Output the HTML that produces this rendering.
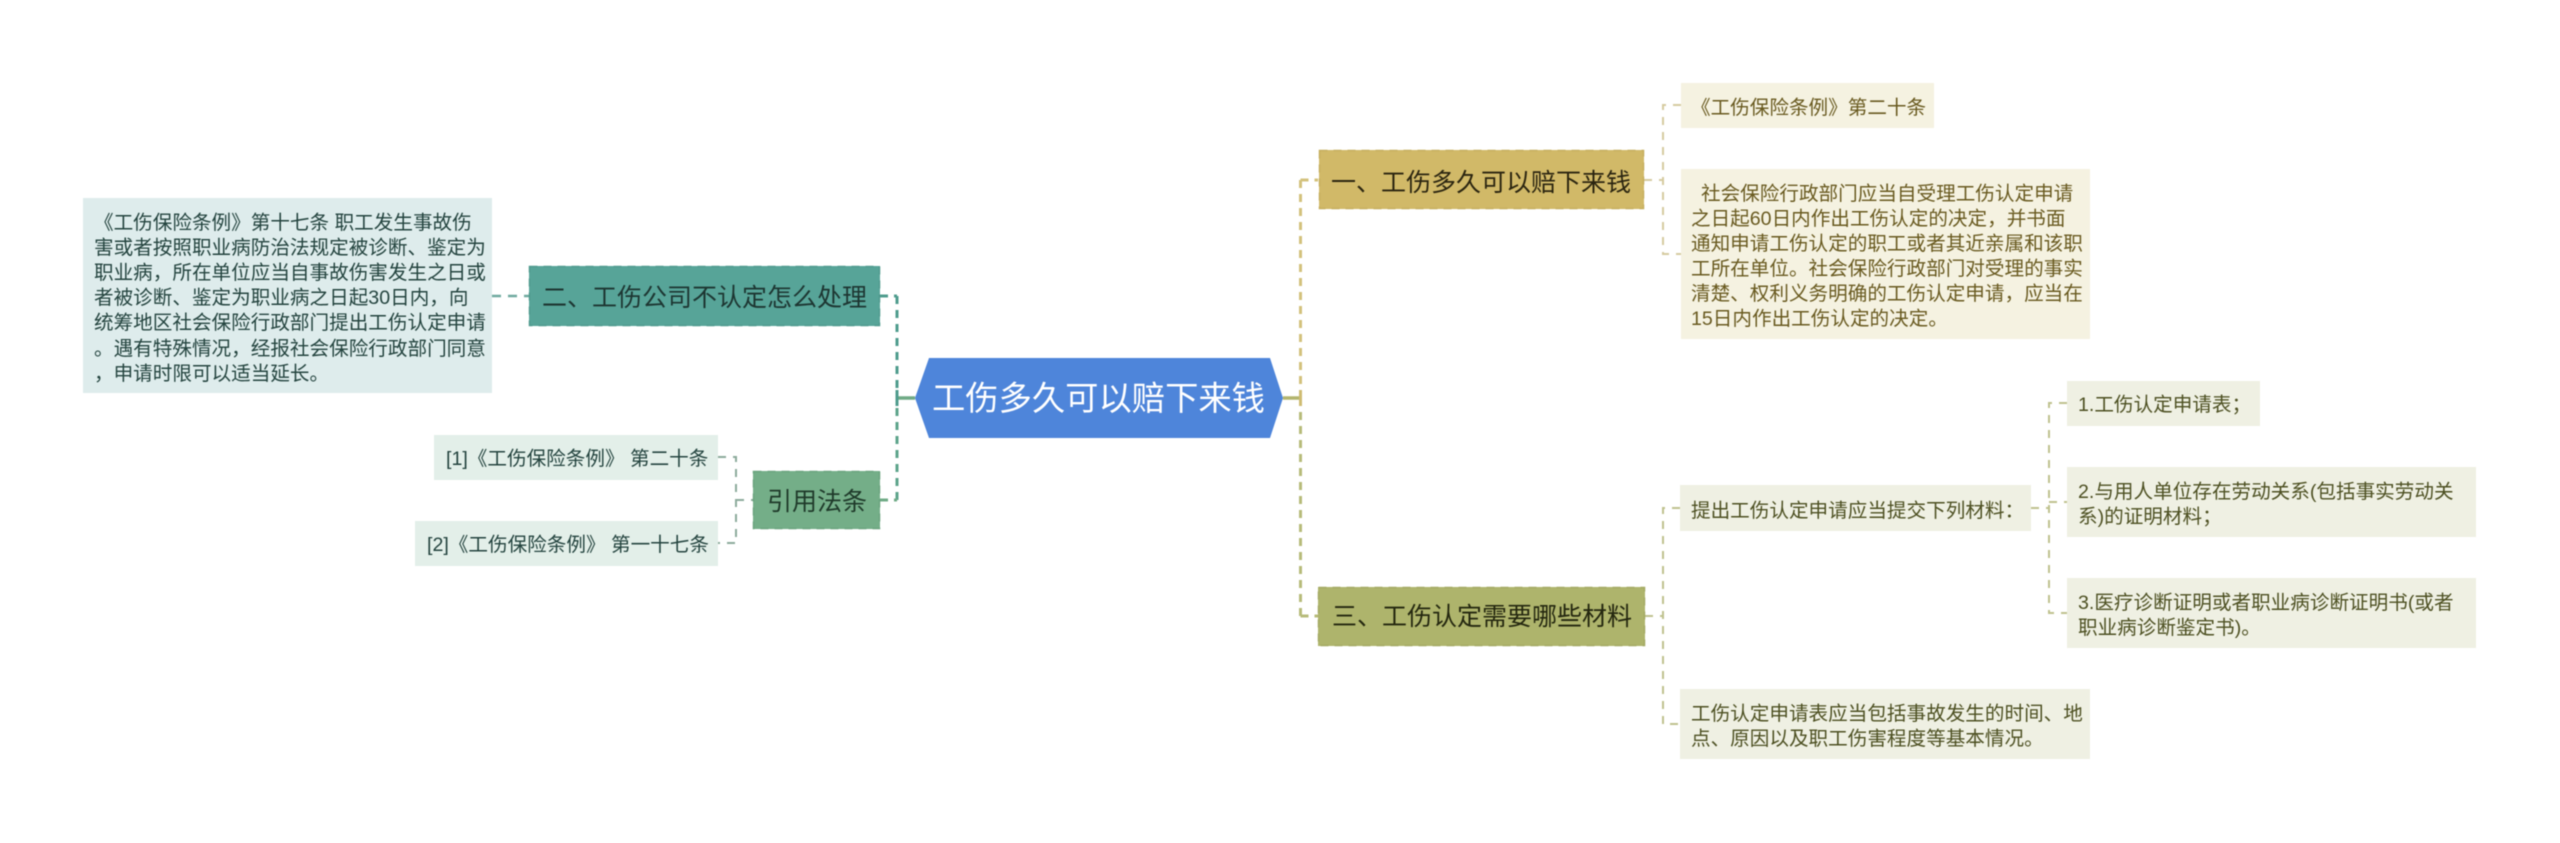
<!DOCTYPE html>
<html lang="zh-CN">
<head>
<meta charset="utf-8">
<title>工伤多久可以赔下来钱</title>
<style>
html,body{margin:0;padding:0;background:#fff;width:2560px;height:843px;overflow:hidden}
svg{display:block;filter:blur(0.5px)}
text{font-family:"Liberation Sans","Noto Sans CJK SC",sans-serif;white-space:pre}
.s{font-size:19.6px}
.m{font-size:25px}
.g{fill:#24443f}
.y{fill:#695a20}
.o{fill:#4d5022}
.k1{fill:#1d3632}
.k2{fill:#1f3a2a}
.k3{fill:#2b2510}
.k4{fill:#24270f}
</style>
</head>
<body>
<svg xmlns="http://www.w3.org/2000/svg" width="2560" height="843" viewBox="0 0 2560 843" xml:space="preserve">
<rect width="2560" height="843" fill="#fff"/>

<!-- connectors -->
<g fill="none" stroke-dasharray="8 6" stroke-width="3">
  <path d="M897 296V398" stroke="#4f9c8e"/>
  <path d="M897 500V398" stroke="#5ea58b"/>
  <path d="M880 296H897" stroke="#4f9c8e"/>
  <path d="M880 500H897" stroke="#6fab86"/>
  <path d="M1300.5 180V398" stroke="#d3c27c"/>
  <path d="M1300.5 616V398" stroke="#b7bb7a"/>
  <path d="M1300.5 180H1318" stroke="#d3c27c"/>
  <path d="M1300.5 616H1318" stroke="#b7bb7a"/>
</g>
<path d="M492 296H529" fill="none" stroke="#6faa9f" stroke-width="2.5" stroke-dasharray="9 7"/>
<path d="M897 398H915" stroke="#6fab86" stroke-width="3.5" fill="none"/>
<path d="M1283 398H1300" stroke="#b3b56e" stroke-width="3.5" fill="none"/>
<path d="M897 390V406" stroke="#4f9c8e" stroke-width="3" fill="none"/>
<path d="M1300.5 390V406" stroke="#cfbc72" stroke-width="3" fill="none"/>

<g fill="none" stroke-width="2" stroke-dasharray="8 7">
  <path d="M718 457H736V543H718" stroke="#8dab9c"/>
  <path d="M736 500H753" stroke="#8dab9c"/>
  <path d="M1644 180H1663" stroke="#d6cba0"/>
  <path d="M1681 105H1663V254H1681" stroke="#d6cba0"/>
  <path d="M1645 616H1663" stroke="#bfc28e"/>
  <path d="M1680 508H1663V724H1680" stroke="#bfc28e"/>
  <path d="M2031 508H2049" stroke="#bfc28e"/>
  <path d="M2067 403H2049V613H2067" stroke="#bfc28e"/>
  <path d="M2049 502H2067" stroke="#bfc28e"/>
</g>

<!-- root -->
<polygon points="929,358 1270,358 1283,398 1270,438 929,438 915,398" fill="#4e85da"/>
<text x="932" y="410" font-size="33.3" fill="#fff">工伤多久可以赔下来钱</text>

<!-- main nodes -->
<rect x="529" y="266" width="351" height="60" fill="#57a498"/>
<rect x="529.5" y="266.5" width="350" height="59" fill="none" stroke="#4f9a8e" stroke-width="1.5" stroke-dasharray="8 6"/>
<text class="m k1" x="542" y="306">二、工伤公司不认定怎么处理</text>

<rect x="753" y="471" width="127" height="58" fill="#74ae88"/>
<rect x="753.5" y="471.5" width="126" height="57" fill="none" stroke="#6aa47e" stroke-width="1.5" stroke-dasharray="8 6"/>
<text class="m k2" x="767" y="510">引用法条</text>

<rect x="1319" y="150" width="325" height="59" fill="#d1b968"/>
<rect x="1319.5" y="150.5" width="324" height="58" fill="none" stroke="#c6ae5d" stroke-width="1.5" stroke-dasharray="8 6"/>
<text class="m k3" x="1331" y="191">一、工伤多久可以赔下来钱</text>

<rect x="1318" y="587" width="327" height="59" fill="#aeb46c"/>
<rect x="1318.5" y="587.5" width="326" height="58" fill="none" stroke="#a3a962" stroke-width="1.5" stroke-dasharray="8 6"/>
<text class="m k4" x="1332" y="625">三、工伤认定需要哪些材料</text>

<!-- left boxes -->
<rect x="83" y="198" width="409" height="195" fill="#deecec"/>
<g class="s g">
  <text x="94" y="229">《工伤保险条例》第十七条 职工发生事故伤</text>
  <text x="94" y="254">害或者按照职业病防治法规定被诊断、鉴定为</text>
  <text x="94" y="279">职业病，所在单位应当自事故伤害发生之日或</text>
  <text x="94" y="304">者被诊断、鉴定为职业病之日起30日内，向</text>
  <text x="94" y="329">统筹地区社会保险行政部门提出工伤认定申请</text>
  <text x="94" y="355">。遇有特殊情况，经报社会保险行政部门同意</text>
  <text x="94" y="380">，申请时限可以适当延长。</text>
</g>

<rect x="434" y="435" width="284" height="45" fill="#e3efe9"/>
<text class="s g" x="446" y="465">[1]《工伤保险条例》 第二十条</text>
<rect x="415" y="521" width="303" height="45" fill="#e3efe9"/>
<text class="s g" x="427" y="551">[2]《工伤保险条例》 第一十七条</text>

<!-- right top boxes -->
<rect x="1681" y="83" width="253" height="45" fill="#f5f2e1"/>
<text class="s y" x="1691" y="114">《工伤保险条例》第二十条</text>

<rect x="1681" y="169" width="409" height="170" fill="#f5f2e1"/>
<g class="s y">
  <text x="1701" y="200">社会保险行政部门应当自受理工伤认定申请</text>
  <text x="1691" y="225">之日起60日内作出工伤认定的决定，并书面</text>
  <text x="1691" y="250">通知申请工伤认定的职工或者其近亲属和该职</text>
  <text x="1691" y="275">工所在单位。社会保险行政部门对受理的事实</text>
  <text x="1691" y="300">清楚、权利义务明确的工伤认定申请，应当在</text>
  <text x="1691" y="325">15日内作出工伤认定的决定。</text>
</g>

<!-- right bottom boxes -->
<rect x="1680" y="485" width="351" height="46" fill="#eff0e3"/>
<text class="s o" x="1691" y="517">提出工伤认定申请应当提交下列材料：</text>

<rect x="2067" y="381" width="193" height="45" fill="#eff0e3"/>
<text class="s o" x="2078" y="411">1.工伤认定申请表；</text>

<rect x="2067" y="467" width="409" height="70" fill="#eff0e3"/>
<text class="s o" x="2078" y="498">2.与用人单位存在劳动关系(包括事实劳动关</text>
<text class="s o" x="2078" y="523">系)的证明材料；</text>

<rect x="2067" y="578" width="409" height="70" fill="#eff0e3"/>
<text class="s o" x="2078" y="609">3.医疗诊断证明或者职业病诊断证明书(或者</text>
<text class="s o" x="2078" y="634">职业病诊断鉴定书)。</text>

<rect x="1680" y="689" width="410" height="70" fill="#eff0e3"/>
<text class="s o" x="1691" y="720">工伤认定申请表应当包括事故发生的时间、地</text>
<text class="s o" x="1691" y="745">点、原因以及职工伤害程度等基本情况。</text>
</svg>
</body>
</html>
